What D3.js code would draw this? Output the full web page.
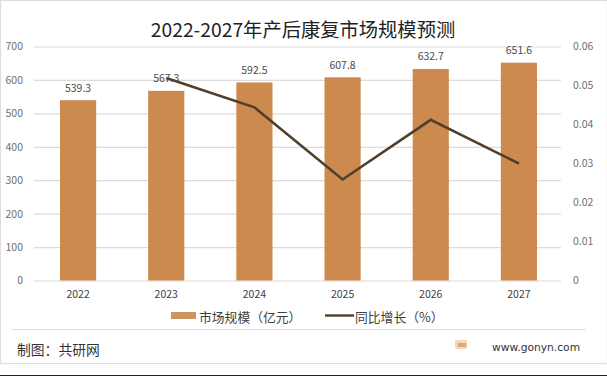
<!DOCTYPE html>
<html>
<head>
<meta charset="utf-8">
<title>2022-2027年产后康复市场规模预测</title>
<style>
    html, body { margin: 0; padding: 0; background: #fff; }
    svg { display: block; }
    text { font-family: "Noto Sans CJK SC", "Noto Sans", sans-serif; }
    .grid line { stroke: #dcdcdc; stroke-width: 1.2; }
    .domain { display: none; }
    .tick line { display: none; }
</style>
</head>
<body>
<svg></svg>
<script src="https://d3js.org/d3.v7.min.js"></script>
<script>
    const years = ['2022', '2023', '2024', '2025', '2026', '2027'];
    const marketSize = [539.3, 567.3, 592.5, 607.8, 632.7, 651.6];
    const growthYears = ['2023', '2024', '2025', '2026', '2027'];
    const growth = [0.0519, 0.0444, 0.0259, 0.0412, 0.030];
    const leftTicks = [0, 100, 200, 300, 400, 500, 600, 700];
    const rightTicks = [0, 0.01, 0.02, 0.03, 0.04, 0.05, 0.06];

    const width = 607;
    const height = 376;
    const margin = { top: 46.5, right: 44, bottom: 95.5, left: 34 };
    const innerWidth = width - margin.left - margin.right;
    const innerHeight = height - margin.top - margin.bottom;

    const barColor = '#cc8a4e';
    const lineColor = '#513f2c';
    const axisColor = '#707070';

    const root = d3.select('svg').attr('width', width).attr('height', height);

    // picture frame
    root.append('rect').attr('x', 0.5).attr('y', 0.5).attr('width', width).attr('height', 363)
        .attr('fill', 'none').attr('stroke', '#dedede').attr('stroke-width', 1.2);
    root.append('line').attr('x1', 0).attr('x2', width).attr('y1', 375.5).attr('y2', 375.5)
        .attr('stroke', '#222');
    root.append('line').attr('x1', 12).attr('x2', 586).attr('y1', 329.5).attr('y2', 329.5)
        .attr('stroke', '#dcdcdc').attr('stroke-width', 1.2);

    const svg = root.append('g').attr('transform', `translate(${margin.left},${margin.top})`);

    const x = d3.scaleBand().domain(years).range([0, innerWidth]).paddingInner(0.59).paddingOuter(0.295);
    const yLeft = d3.scaleLinear().domain([0, 700]).range([innerHeight, 0]);
    const yRight = d3.scaleLinear().domain([0, 0.06]).range([innerHeight, 0]);

    svg.append('g').attr('class', 'grid')
        .call(d3.axisLeft(yLeft).tickValues(leftTicks).tickSize(-(innerWidth - 2)).tickFormat(''))
        .selectAll('.tick line').style('display', 'block');

    svg.selectAll('rect.bar').data(marketSize).enter().append('rect')
        .attr('class', 'bar')
        .attr('x', (d, i) => x(years[i]))
        .attr('y', d => yLeft(d))
        .attr('width', x.bandwidth())
        .attr('height', d => innerHeight - yLeft(d))
        .attr('fill', barColor);

    const line = d3.line()
        .x((d, i) => x(growthYears[i]) + x.bandwidth() / 2)
        .y(d => yRight(d));
    svg.append('path').datum(growth)
        .attr('d', line)
        .attr('fill', 'none')
        .attr('stroke', lineColor)
        .attr('stroke-width', 2.6);

    svg.selectAll('text.value').data(marketSize).enter().append('text')
        .attr('class', 'value')
        .attr('x', (d, i) => x(years[i]) + x.bandwidth() / 2)
        .attr('y', d => yLeft(d) - 8.5)
        .attr('text-anchor', 'middle')
        .attr('font-size', 10.5)
        .attr('fill', '#4a4a4a')
        .text(d => d.toFixed(1));

    const leftAxis = svg.append('g').call(d3.axisLeft(yLeft).tickValues(leftTicks).tickSize(0).tickPadding(11));
    leftAxis.selectAll('text').style('font-size', '10.5px').attr('fill', axisColor);

    const rightAxis = svg.append('g').attr('transform', `translate(${innerWidth},0)`)
        .call(d3.axisRight(yRight).tickValues(rightTicks).tickSize(0).tickPadding(10).tickFormat(d => d === 0 ? '0' : d3.format('.2f')(d)));
    rightAxis.selectAll('text').style('font-size', '10.5px').attr('fill', axisColor);

    const bottomAxis = svg.append('g').attr('transform', `translate(0,${innerHeight})`)
        .call(d3.axisBottom(x).tickSize(0).tickPadding(10));
    bottomAxis.selectAll('text').style('font-size', '10.5px').attr('fill', '#404040');

    root.append('text').attr('x', 303).attr('y', 36.5).attr('text-anchor', 'middle')
        .attr('font-size', 19.3).attr('fill', '#222')
        .text('2022-2027年产后康复市场规模预测');

    // legend
    root.append('rect').attr('x', 171).attr('y', 312).attr('width', 25).attr('height', 7).attr('fill', '#c99560');
    root.append('text').attr('x', 199).attr('y', 321.5).attr('font-size', 12.8).attr('fill', '#404040').text('市场规模（亿元）');
    root.append('line').attr('x1', 325).attr('x2', 354).attr('y1', 315.5).attr('y2', 315.5)
        .attr('stroke', lineColor).attr('stroke-width', 2.4);
    root.append('text').attr('x', 355).attr('y', 321.5).attr('font-size', 12.8).attr('fill', '#404040').text('同比增长（%）');

    // footer
    root.append('text').attr('x', 17).attr('y', 355).attr('font-size', 13.8).attr('fill', '#333').text('制图：共研网');
    root.append('rect').attr('x', 455).attr('y', 340).attr('width', 12).attr('height', 9).attr('rx', 1).attr('fill', '#f3d9b4');
    root.append('rect').attr('x', 458).attr('y', 343).attr('width', 8).attr('height', 4).attr('fill', '#e0a880');
    root.append('text').attr('x', 492).attr('y', 351).attr('font-size', 10.7)
        .attr('fill', '#333').style('font-family', '"DejaVu Sans"').text('www.gonyn.com');
</script>
</body>
</html>
